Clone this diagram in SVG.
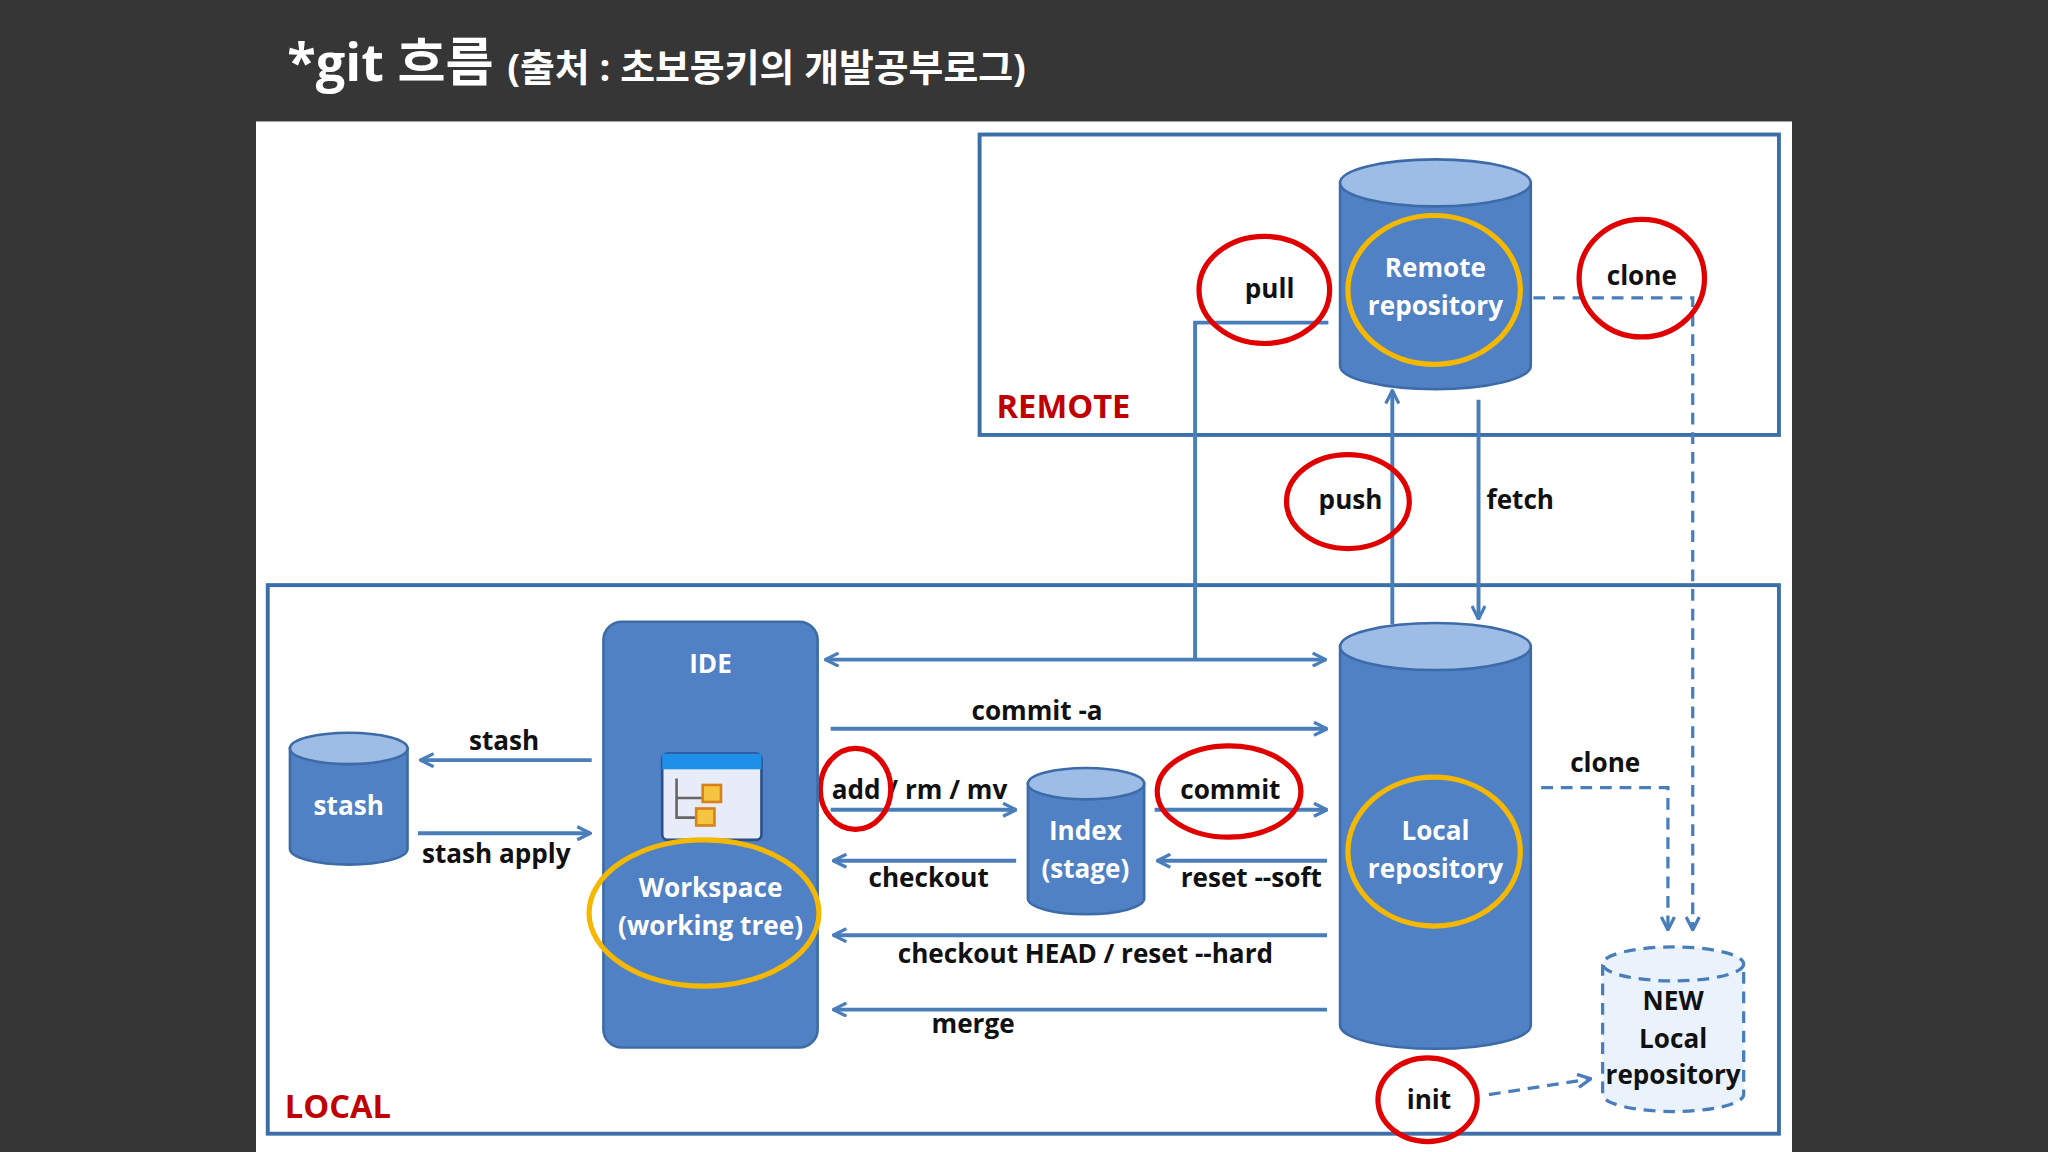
<svg xmlns="http://www.w3.org/2000/svg" width="2048" height="1152" viewBox="0 0 2048 1152">
<defs>
<style>
.t{font-family:"Open Sans","Noto Sans CJK KR",sans-serif;font-weight:bold}
.w{fill:#fff;font-size:20px;text-anchor:middle}
.b{fill:#111;font-size:20px;text-anchor:middle}
.ln{stroke:#4a7ebb;stroke-width:3;fill:none}
.dl{stroke:#4a7ebb;stroke-width:2.5;fill:none;stroke-dasharray:9 6}
.red{fill:none;stroke:#e00000;stroke-width:4}
.yel{fill:none;stroke:#f5b800;stroke-width:4}
.cyl{fill:#4f81c4;stroke:#3d6ba8;stroke-width:2}
.top{fill:#9dbde6;stroke:#3d6ba8;stroke-width:2}
.box{fill:none;stroke:#3c6ea8;stroke-width:3}
.lab{fill:#c00000;font-size:25px}
</style>
<marker id="a" viewBox="0 0 12 12" refX="11" refY="6" markerWidth="12" markerHeight="12" markerUnits="userSpaceOnUse" orient="auto-start-reverse"><path d="M1,1 L11,6 L1,11" fill="none" stroke="#4a7ebb" stroke-width="2.5"/></marker>
</defs>
<rect width="2048" height="1152" fill="#363636"/>
<g transform="scale(1.30612)">
<text class="t" x="220" y="62" fill="#fff" font-size="40">*git 흐름 <tspan font-size="29">(출처 : 초보몽키의 개발공부로그)</tspan></text>
<rect x="196" y="93" width="1176" height="789" fill="#fff"/>
<g id="remote-box"><rect class="box" x="750" y="103" width="612" height="230"/><text class="t lab" x="763" y="320">REMOTE</text></g>
<g id="local-box"><rect class="box" x="205" y="448" width="1157" height="420"/><text class="t lab" x="218" y="856">LOCAL</text></g>
<g id="connectors">
<polyline class="ln" points="1017,247 915,247 915,505"/>
<line class="ln" x1="632" y1="505" x2="1015" y2="505" marker-start="url(#a)" marker-end="url(#a)"/>
<line class="ln" x1="1066" y1="478" x2="1066" y2="299" marker-end="url(#a)"/>
<line class="ln" x1="1132" y1="306" x2="1132" y2="474" marker-end="url(#a)"/>
<polyline class="dl" points="1174,228 1296,228 1296,712" marker-end="url(#a)"/>
<polyline class="dl" points="1180,603 1277,603 1277,712" marker-end="url(#a)"/>
<line class="dl" x1="1140" y1="838" x2="1218" y2="826" marker-end="url(#a)"/>
<line class="ln" x1="453" y1="582" x2="322" y2="582" marker-end="url(#a)"/>
<line class="ln" x1="320" y1="638" x2="452" y2="638" marker-end="url(#a)"/>
<line class="ln" x1="636" y1="558" x2="1016" y2="558" marker-end="url(#a)"/>
<line class="ln" x1="636" y1="620" x2="778" y2="620" marker-end="url(#a)"/>
<line class="ln" x1="884" y1="620" x2="1016" y2="620" marker-end="url(#a)"/>
<line class="ln" x1="778" y1="659" x2="638" y2="659" marker-end="url(#a)"/>
<line class="ln" x1="1016" y1="659" x2="886" y2="659" marker-end="url(#a)"/>
<line class="ln" x1="1016" y1="716" x2="638" y2="716" marker-end="url(#a)"/>
<line class="ln" x1="1016" y1="773" x2="638" y2="773" marker-end="url(#a)"/>
<g class="t b">
<text x="972" y="228">pull</text><text x="1257" y="218">clone</text>
<text x="1034" y="390">push</text><text x="1164" y="390">fetch</text>
<text x="386" y="574">stash</text><text x="380" y="661">stash apply</text>
<text x="794" y="551">commit  -a</text><text x="704" y="612">add / rm / mv</text>
<text x="942" y="612">commit</text><text x="711" y="679">checkout</text>
<text x="958" y="679">reset  --soft</text><text x="831" y="737">checkout  HEAD  /  reset --hard</text>
<text x="745" y="791">merge</text><text x="1229" y="591">clone</text><text x="1094" y="849">init</text>
</g>
<ellipse class="red" cx="968" cy="222" rx="50" ry="41"/>
<ellipse class="red" cx="1257" cy="213" rx="48" ry="45"/>
<ellipse class="red" cx="1032" cy="384" rx="47" ry="36"/>
<ellipse class="red" cx="655" cy="604" rx="27" ry="31"/>
<ellipse class="red" cx="941" cy="606" rx="55" ry="35"/>
<ellipse class="red" cx="1093" cy="842" rx="38" ry="32"/>
</g>
<g id="remote-repo"><path class="cyl" d="M1026,140 V280 A73,18 0 0 0 1172,280 V140 Z"/><ellipse class="top" cx="1099" cy="140" rx="73" ry="18"/><ellipse class="yel" cx="1098" cy="222" rx="66" ry="57"/><text class="t w" x="1099" y="212">Remote</text><text class="t w" x="1099" y="241">repository</text></g>
<g id="local-repo"><path class="cyl" d="M1026,495 V785 A73,18 0 0 0 1172,785 V495 Z"/><ellipse class="top" cx="1099" cy="495" rx="73" ry="18"/><ellipse class="yel" cx="1098" cy="652" rx="66" ry="57"/><text class="t w" x="1099" y="643">Local</text><text class="t w" x="1099" y="672">repository</text></g>
<g id="ide"><rect x="462" y="476" width="164" height="326" rx="14" fill="#4f81c4" stroke="#3d6ba8" stroke-width="2"/><text class="t w" x="544" y="515" font-size="26">IDE</text>
<rect x="507" y="577" width="76" height="66" rx="4" fill="#e8ecf8" stroke="#2d4f8a" stroke-width="2"/><rect x="507" y="577" width="76" height="12" fill="#1e90e8"/>
<path d="M518,596 V626 H533 M518,611 H538" stroke="#666" stroke-width="2" fill="none"/><rect x="538" y="601" width="14" height="13" fill="#f5c542" stroke="#d8801a" stroke-width="2"/><rect x="533" y="619" width="14" height="13" fill="#f5c542" stroke="#d8801a" stroke-width="2"/>
<ellipse class="yel" cx="539" cy="699" rx="88" ry="56"/><text class="t w" x="544" y="687">Workspace</text><text class="t w" x="544" y="716">(working tree)</text></g>
<g id="stash"><path class="cyl" d="M222,573 V650 A45,12 0 0 0 312,650 V573 Z"/><ellipse class="top" cx="267" cy="573" rx="45" ry="12"/><text class="t w" x="267" y="624">stash</text></g>
<g id="index"><path class="cyl" d="M787,600 V688 A44.5,12 0 0 0 876,688 V600 Z"/><ellipse class="top" cx="831.5" cy="600" rx="44.5" ry="12"/><text class="t w" x="831" y="643">Index</text><text class="t w" x="831" y="672">(stage)</text></g>
<g id="new-local"><path d="M1227,738 V838 A54,13 0 0 0 1335,838 V738" fill="#eaf3fb" stroke="#4a7ebb" stroke-width="2.5" stroke-dasharray="9 6"/><ellipse cx="1281" cy="738" rx="54" ry="13" fill="#eaf3fb" stroke="#4a7ebb" stroke-width="2.5" stroke-dasharray="9 6"/><text class="t b" x="1281" y="773">NEW</text><text class="t b" x="1281" y="802">Local</text><text class="t b" x="1281" y="830">repository</text></g>
</g>
</svg>
